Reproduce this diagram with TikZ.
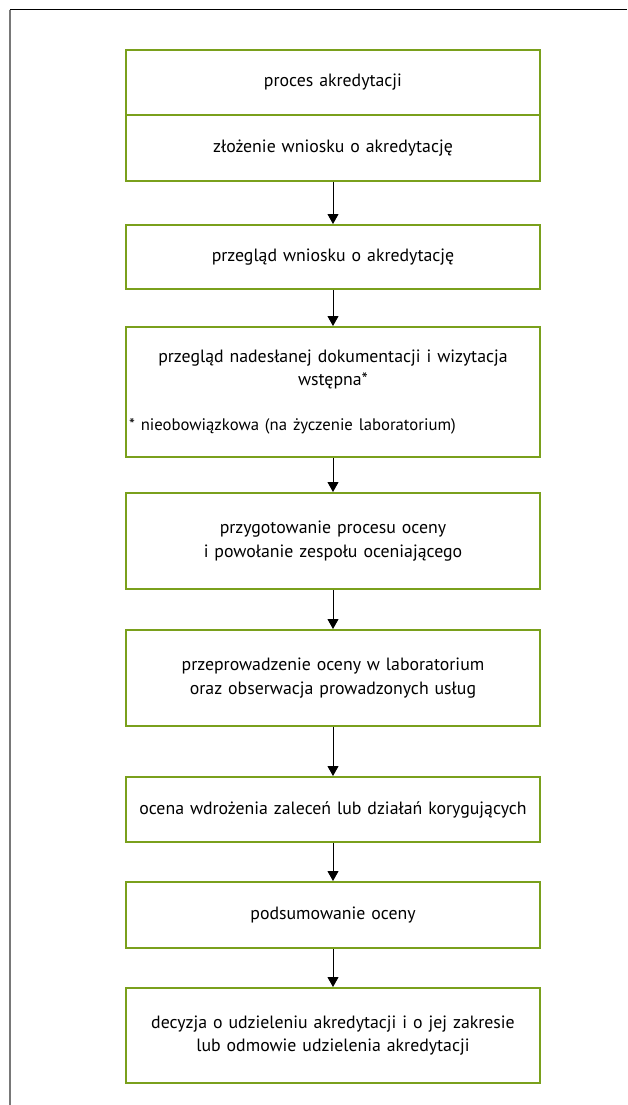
\documentclass[tikz,border=0pt]{standalone}
\usepackage{fontspec}
\setmainfont{PT Sans}
\usepackage{tikz}
\usetikzlibrary{arrows.meta,positioning}
\definecolor{akgreen}{RGB}{122,160,28}
\definecolor{framegray}{RGB}{120,120,120}

\tikzset{
  stepbox/.style={draw=akgreen, line width=2pt, align=center, inner sep=3pt,
    text width=408pt, font=\fontsize{17.8}{23.5}\selectfont},
  flow/.style={-{Triangle[width=11pt,length=10pt]}, line width=1pt, black}
}

\begin{document}
\begin{tikzpicture}[x=1pt, y=-1pt]
  \useasboundingbox (0,0) rectangle (627,1105);

  % ========== FRAME ==========
  \draw[black, line width=1pt] (9.5,10) -- (627,10);
  \draw[framegray, line width=1.2pt] (10,10) -- (10,1105);

  % ========== STEPS ==========
  \node[stepbox, minimum height=65pt] (proces) at (333,82.5) {proces akredytacji};
  \node[stepbox, minimum height=66pt] (zlozenie) at (333,148) {złożenie wniosku o akredytację};
  \node[stepbox, minimum height=64pt] (przeglad) at (333,257) {przegląd wniosku o akredytację};
  \node[stepbox, minimum height=130pt] (dokumentacja) at (333,392) {%
    przegląd nadesłanej dokumentacji i wizytacja\\
    wstępna*\\[21pt]
    \makebox[408pt][l]{\fontsize{16.7}{18}\selectfont * nieobowiązkowa (na życzenie laboratorium)}};
  \node[stepbox, minimum height=96pt] (przygotowanie) at (333,541) {%
    przygotowanie procesu oceny\\ i powołanie zespołu oceniającego};
  \node[stepbox, minimum height=96pt] (przeprowadzenie) at (333,678) {%
    przeprowadzenie oceny w laboratorium\\ oraz obserwacja prowadzonych usług};
  \node[stepbox, minimum height=65pt] (wdrozenie) at (333,809.5) {%
    ocena wdrożenia zaleceń lub działań korygujących};
  \node[stepbox, minimum height=66pt] (podsumowanie) at (333,915) {podsumowanie oceny};
  \node[stepbox, minimum height=95pt] (decyzja) at (333,1035.5) {%
    decyzja o udzieleniu akredytacji i o jej zakresie\\ lub odmowie udzielenia akredytacji};

  % ========== ARROWS ==========
  \foreach \a/\b in {zlozenie/przeglad, przeglad/dokumentacja,
      dokumentacja/przygotowanie, przygotowanie/przeprowadzenie,
      przeprowadzenie/wdrozenie, wdrozenie/podsumowanie, podsumowanie/decyzja}
    \draw[flow] (\a) -- (\b);

\end{tikzpicture}
\end{document}
